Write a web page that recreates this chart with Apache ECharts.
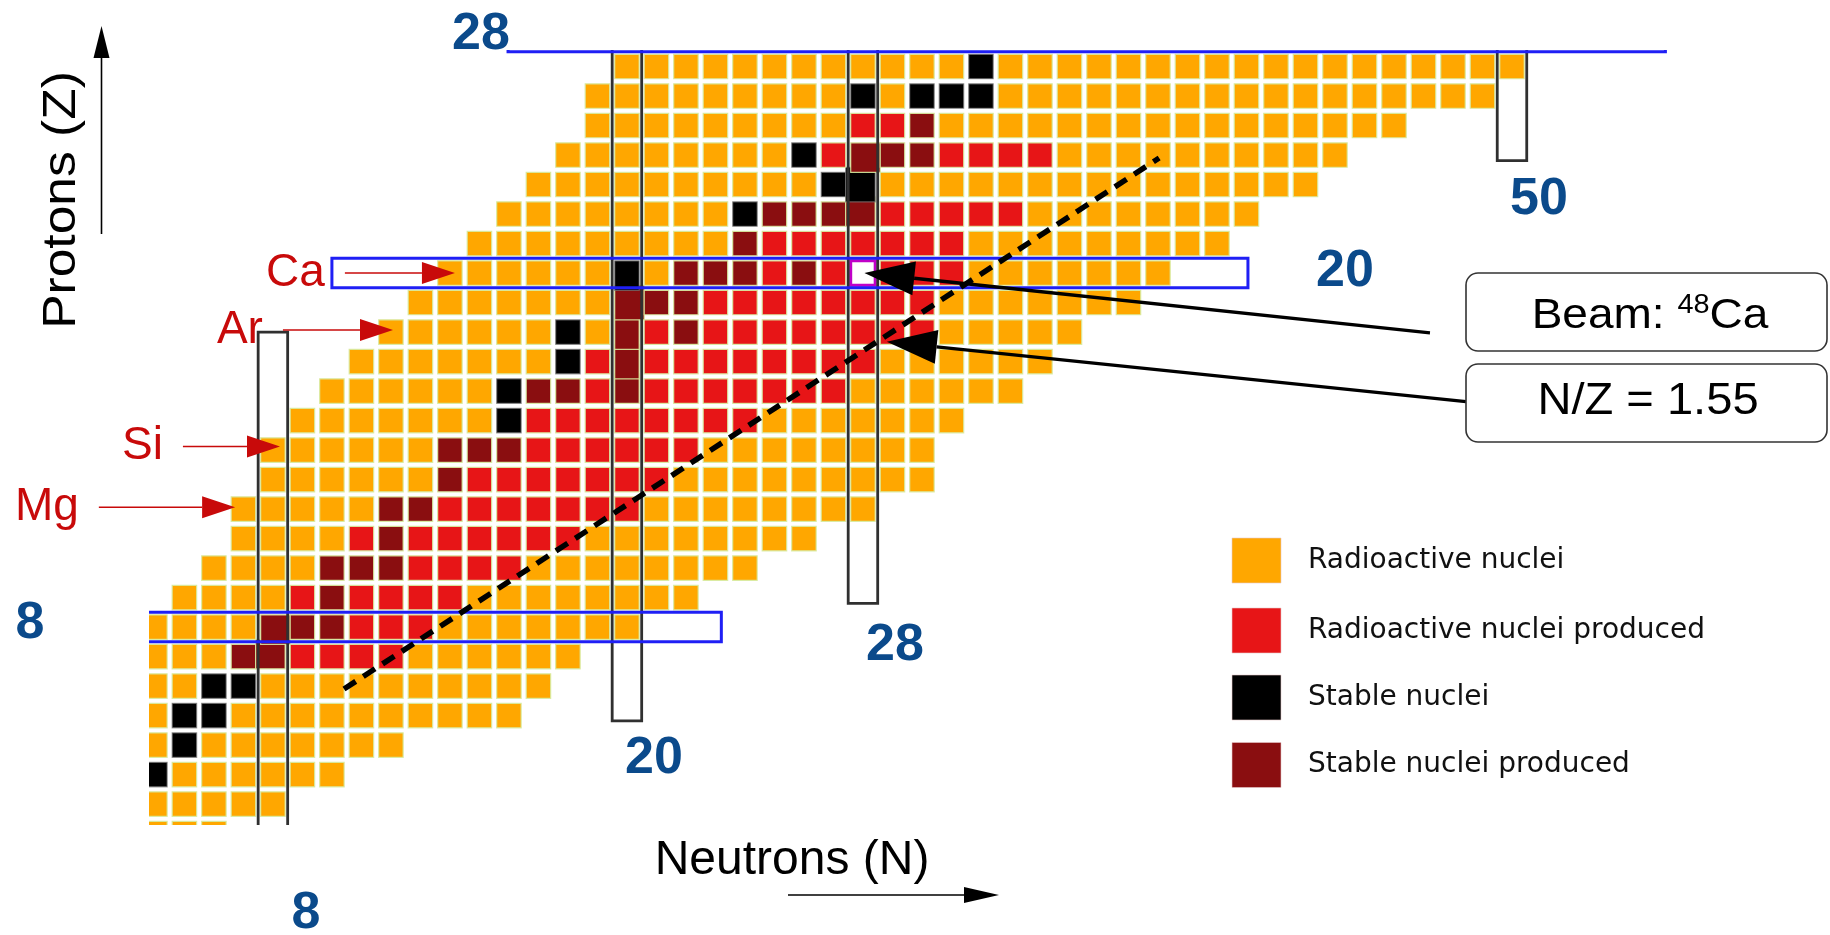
<!DOCTYPE html>
<html>
<head>
<meta charset="utf-8">
<title>Nuclide chart</title>
<script src="https://cdn.jsdelivr.net/npm/echarts@6.0.0/dist/echarts.min.js"></script>
<style>
html,body{margin:0;padding:0;background:#ffffff;}
#chart{width:1830px;height:935px;}
</style>
</head>
<body>
<div id="chart"></div>
<script>
// ---------------- DATA ----------------
// each row: proton number Z, first neutron number N, then runs of cells
// o = radioactive, r = radioactive produced, k = stable, d = stable produced, w = beam (48Ca)
const rowZ      = [1,2,3,4,5,6,7,8,9,10,11,12,13,14,15,16,17,18,19,20,21,22,23,24,25,26,27];
const rowStartN = [4,4,4,4,4,4,4,4,5,6,7,7,8,8,9,10,11,12,13,14,15,16,17,18,19,19,20];
const rowRuns = [
  '3o',
  '5o',
  'k 6o',
  'o k 7o',
  'o 2k 10o',
  '2o 2k 10o',
  '3o 2d 4r 6o',
  '4o 3d 3r 7o',
  '4o r d 4r 8o',
  '4o 3d 4r 8o',
  '4o r d 6r 8o',
  '5o 2d 7r 8o',
  '6o d 7r 9o',
  '6o 3d 6r 8o',
  '7o k 8r 7o',
  '6o k 2d r d 7r 6o',
  '7o k r d 8r 6o',
  '6o k o d r d 8r 5o',
  '7o 3d 8r 7o',
  '6o k o 3d r d r w 3r 7o',
  '9o d 7r 9o',
  '8o k 4d 5r 8o',
  '10o 2k 15o',
  '8o k r 3d 4r 10o',
  '9o 2r d 16o',
  '9o k o 3k 17o',
  '12o k 18o'
];
const magicN = [8, 20, 28, 50];
// closed-shell boxes: [N from, N to, Z from, Z to]
const neutronShells = [[7.5, 8.5, 0, 18.0], [19.5, 20.5, 4.82, 29], [27.5, 28.5, 8.8, 29], [49.5, 50.5, 23.81, 29]];
const protonShells  = [[0, 23.2, 7.5, 8.5], [10.0, 41.05, 19.5, 20.5], [15.97, 55.2, 27.5, 28.5]];
const nzLine = [[10.41, 5.9], [38.04, 23.9]];
// pointers: [N start, Z start, N tip, Z tip]
const calloutPointers = [[47.22, 17.97, 28.05, 20.0], [48.44, 15.64, 28.81, 17.67]];
const elementNames = ['Ca', 'Ar', 'Si', 'Mg'];
const elementPointers = [[10.44, 20.0, 14.17, 20.0], [8.34, 18.07, 12.07, 18.07], [4.95, 14.12, 8.24, 14.12], [2.1, 12.06, 6.72, 12.06]];
const legendLabels = ['Radioactive nuclei', 'Radioactive nuclei produced', 'Stable nuclei', 'Stable nuclei produced'];
const shellLabels = ['28', '8', '8', '20', '28', '50', '20'];

// ---------------- build cell table ----------------
const TYPES = ['o', 'r', 'k', 'd', 'w'];
const cells = [];
const cellMap = {};
rowZ.forEach((z, i) => {
  let n = rowStartN[i];
  rowRuns[i].split(' ').forEach(tok => {
    const m = tok.match(/^(\d*)([orkdw])$/);
    const cnt = m[1] ? parseInt(m[1], 10) : 1;
    for (let j = 0; j < cnt; j++) {
      cells.push([n, z, TYPES.indexOf(m[2])]);
      cellMap[n + ',' + z] = m[2];
      n++;
    }
  });
});
const cellAt = (n, z) => cellMap[n + ',' + z];
const isDark = t => t === 'k' || t === 'd';

// ---------------- styles ----------------
const COL = { o: '#FFA700', r: '#E71517', k: '#000000', d: '#8A0E10', w: '#FFFFFF' };
const BLUE = '#1f1ff5';
const NUM_BLUE = '#0b4a8b';
const ELEM_RED = '#c80a0a';

function renderCell(params, api) {
  const n = api.value(0), z = api.value(1), t = TYPES[api.value(2)];
  const c = api.coord([n, z]);
  const s = api.size([1, 1]);
  const w = s[0] * 0.83, h = s[1] * 0.83;
  let x0 = c[0] - w / 2, x1 = c[0] + w / 2, y0 = c[1] - h / 2, y1 = c[1] + h / 2;
  if (magicN.indexOf(n) >= 0 && isDark(t)) {
    if (isDark(cellAt(n - 1, z))) x0 = c[0] - s[0] + w / 2;
    if (isDark(cellAt(n + 1, z))) x1 = c[0] + s[0] - w / 2;
    if (isDark(cellAt(n, z + 1))) y0 = c[1] - s[1] + h / 2;
    if (isDark(cellAt(n, z - 1))) y1 = c[1] + s[1] - h / 2;
  }
  const style = t === 'w'
    ? { fill: '#ffffff', stroke: '#c000c8', lineWidth: 3 }
    : { fill: COL[t], stroke: t === 'k' ? 'rgba(120,120,120,0.7)' : 'rgba(215,235,160,0.9)', lineWidth: 1.2 };
  return { type: 'rect', shape: { x: x0, y: y0, width: x1 - x0, height: y1 - y0 }, style: style };
}

function makeShellRenderer(color, lw) {
  return function (params, api) {
    const p0 = api.coord([api.value(0), api.value(3)]);
    const p1 = api.coord([api.value(1), api.value(2)]);
    return {
      type: 'rect',
      shape: { x: p0[0], y: p0[1], width: p1[0] - p0[0], height: p1[1] - p0[1] },
      style: { fill: 'none', stroke: color, lineWidth: lw }
    };
  };
}

function arrowParts(p0, p1, len, half) {
  const dx = p1[0] - p0[0], dy = p1[1] - p0[1];
  const L = Math.hypot(dx, dy);
  const ux = dx / L, uy = dy / L;
  const bx = p1[0] - ux * len, by = p1[1] - uy * len;
  const px = -uy * half, py = ux * half;
  return { base: [bx, by], head: [[p1[0], p1[1]], [bx + px, by + py], [bx - px, by - py]] };
}

function renderCallout(params, api) {
  const p0 = api.coord([api.value(0), api.value(1)]);
  const p1 = api.coord([api.value(2), api.value(3)]);
  const a = arrowParts(p0, p1, 50, 17);
  return {
    type: 'group',
    children: [
      { type: 'line', shape: { x1: p0[0], y1: p0[1], x2: a.base[0], y2: a.base[1] }, style: { stroke: '#000', lineWidth: 3.4 } },
      { type: 'polygon', shape: { points: a.head }, style: { fill: '#000' } }
    ]
  };
}

function renderElement(params, api) {
  const p0 = api.coord([api.value(0), api.value(1)]);
  const p1 = api.coord([api.value(2), api.value(3)]);
  const idx = api.value(4);
  const a = arrowParts(p0, p1, 33, 11);
  return {
    type: 'group',
    children: [
      { type: 'line', shape: { x1: p0[0], y1: p0[1], x2: a.base[0], y2: a.base[1] }, style: { stroke: ELEM_RED, lineWidth: 1.6 } },
      { type: 'polygon', shape: { points: a.head }, style: { fill: ELEM_RED } },
      { type: 'text', style: { text: elementNames[idx], x: p0[0] - 20, y: p0[1],
          textAlign: 'right', align: 'right', textVerticalAlign: 'middle', verticalAlign: 'middle',
          fontSize: 46, fontFamily: 'Liberation Sans', fill: ELEM_RED } }
    ]
  };
}

function renderDashed(params, api) {
  const p0 = api.coord([nzLine[0][0], nzLine[0][1]]);
  const p1 = api.coord([nzLine[1][0], nzLine[1][1]]);
  return { type: 'line', shape: { x1: p0[0], y1: p0[1], x2: p1[0], y2: p1[1] },
    style: { stroke: '#000', lineWidth: 5.5, lineDash: [14, 9] } };
}

// ---------------- graphics (labels, boxes, legend, axis arrows) ----------------
const graphics = [];
const numPos = [[481, 35], [30, 624], [306, 914], [654, 759], [895, 646], [1539, 200], [1345, 272]];
shellLabels.forEach((t, i) => {
  graphics.push({ type: 'text', x: numPos[i][0], y: numPos[i][1],
    style: { text: t, textAlign: 'center', align: 'center', textVerticalAlign: 'middle', verticalAlign: 'middle',
      fontSize: 52, fontWeight: 'bold', fontFamily: 'Liberation Sans', fill: NUM_BLUE } });
});
// axis titles
graphics.push({ type: 'text', x: 62, y: 200, rotation: Math.PI / 2, scaleX: 1.12,
  style: { text: 'Protons (Z)', textAlign: 'center', align: 'center', textVerticalAlign: 'middle', verticalAlign: 'middle',
    fontSize: 46, fontFamily: 'Liberation Sans', fill: '#000' } });
graphics.push({ type: 'text', x: 792, y: 861,
  style: { text: 'Neutrons (N)', textAlign: 'center', align: 'center', textVerticalAlign: 'middle', verticalAlign: 'middle',
    fontSize: 48, fontFamily: 'Liberation Sans', fill: '#000' } });
// axis arrows
graphics.push({ type: 'line', shape: { x1: 101.5, y1: 234, x2: 101.5, y2: 56 }, style: { stroke: '#000', lineWidth: 1.6 } });
graphics.push({ type: 'polygon', shape: { points: [[101.5, 26], [93.5, 58], [109.5, 58]] }, style: { fill: '#000' } });
graphics.push({ type: 'line', shape: { x1: 788, y1: 895, x2: 966, y2: 895 }, style: { stroke: '#000', lineWidth: 1.6 } });
graphics.push({ type: 'polygon', shape: { points: [[999, 895], [964, 887], [964, 903]] }, style: { fill: '#000' } });
// callout boxes
graphics.push({ type: 'rect', shape: { x: 1466, y: 273, width: 361, height: 78, r: 12 },
  style: { fill: '#fff', stroke: '#333', lineWidth: 1.6 }, z: 10 });
graphics.push({ type: 'rect', shape: { x: 1466, y: 364, width: 361, height: 78, r: 12 },
  style: { fill: '#fff', stroke: '#333', lineWidth: 1.6 }, z: 10 });
graphics.push({ type: 'text', x: 1650, y: 316, scaleX: 1.07, z: 11,
  style: { text: '{a|Beam: }{s|48}{a|Ca}', textAlign: 'center', align: 'center', textVerticalAlign: 'middle', verticalAlign: 'middle',
    rich: { a: { fontSize: 43, fontFamily: 'Liberation Sans', fill: '#000', lineHeight: 48 },
            s: { fontSize: 27, fontFamily: 'Liberation Sans', fill: '#000', verticalAlign: 'top', lineHeight: 30 } } } });
graphics.push({ type: 'text', x: 1648, y: 402, scaleX: 1.07, z: 11,
  style: { text: 'N/Z = 1.55', textAlign: 'center', align: 'center', textVerticalAlign: 'middle', verticalAlign: 'middle',
    fontSize: 44, fontFamily: 'Liberation Sans', fill: '#000' } });
// legend
const legendColors = [COL.o, COL.r, COL.k, COL.d];
const legendY = [560.5, 630.5, 697.5, 765];
legendLabels.forEach((t, i) => {
  graphics.push({ type: 'rect', shape: { x: 1232, y: legendY[i] - 22.5, width: 49, height: 45 },
    style: { fill: legendColors[i], stroke: 'rgba(230,200,200,0.6)', lineWidth: 1 } });
  graphics.push({ type: 'text', x: 1308, y: legendY[i],
    style: { text: t, textAlign: 'left', align: 'left', textVerticalAlign: 'middle', verticalAlign: 'middle',
      fontSize: 28, fontFamily: 'DejaVu Sans', fill: '#111' } });
});

// ---------------- chart ----------------
const chart = echarts.init(document.getElementById('chart'), null, { renderer: 'canvas' });
chart.setOption({
  animation: false,
  backgroundColor: '#ffffff',
  grid: { left: 149, top: 50, width: 1540, height: 775, containLabel: false },
  xAxis: { type: 'value', min: 3.8, max: 56, show: false },
  yAxis: { type: 'value', min: 1.29, max: 27.56, show: false },
  series: [
    { type: 'custom', name: 'cells', clip: true, z: 2, renderItem: renderCell, data: cells },
    { type: 'custom', name: 'neutron shells', clip: true, z: 3, renderItem: makeShellRenderer('#303030', 2.8), data: neutronShells },
    { type: 'custom', name: 'proton shells', clip: true, z: 3, renderItem: makeShellRenderer(BLUE, 3), data: protonShells },
    { type: 'custom', name: 'N/Z line', clip: true, z: 4, renderItem: renderDashed, data: [[0]] },
    { type: 'custom', name: 'callouts', clip: false, z: 5, renderItem: renderCallout, data: calloutPointers },
    { type: 'custom', name: 'elements', clip: false, z: 5, renderItem: renderElement,
      data: elementPointers.map((a, i) => a.concat([i])) }
  ],
  graphic: { elements: graphics }
});
</script>
</body>
</html>
